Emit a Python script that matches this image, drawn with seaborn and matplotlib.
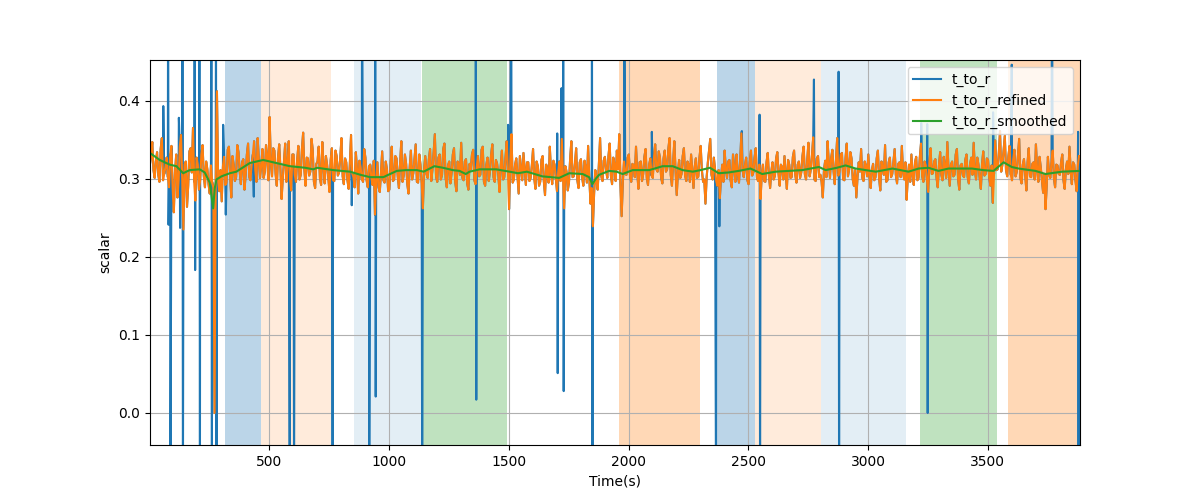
import numpy as np
import pandas as pd
import matplotlib
matplotlib.use("Agg")
import matplotlib.pyplot as plt
import seaborn as sns

# ---------------- data ----------------
# refined signal, samples at t = 1, 11, 21, ... s
time_a = np.arange(1, 3882, 10)
refined_a = [
    0.318, 0.347, 0.301, 0.334, 0.296, 0.352, 0.306, 0.327, 0.289, 0.342,
    0.257, 0.331, 0.298, 0.356, 0.235, 0.322, 0.291, 0.339, 0.365, 0.272,
    0.318, 0.298, 0.343, 0.289, 0.312, 0.281, 0.296, 0.0, 0.412, 0.284,
    0.271, 0.328, 0.295, 0.341, 0.276, 0.318, 0.302, 0.334, 0.293, 0.325,
    0.305, 0.345, 0.298, 0.331, 0.312, 0.352, 0.301, 0.338, 0.309, 0.327,
    0.379, 0.303, 0.336, 0.291, 0.344, 0.274, 0.322, 0.296, 0.348, 0.285,
    0.331, 0.296, 0.342, 0.305, 0.359, 0.291, 0.326, 0.309, 0.337, 0.288,
    0.322, 0.301, 0.347, 0.294, 0.318, 0.283, 0.339, 0.297, 0.329, 0.308,
    0.352, 0.293, 0.321, 0.287, 0.356, 0.302, 0.334, 0.281, 0.315, 0.296,
    0.327, 0.289, 0.318, 0.292, 0.254, 0.321, 0.283, 0.335, 0.295, 0.312,
    0.286, 0.341, 0.299, 0.326, 0.288, 0.348, 0.304, 0.319, 0.281, 0.336,
    0.307, 0.344, 0.295, 0.318, 0.262, 0.329, 0.301, 0.338, 0.312, 0.357,
    0.296, 0.331, 0.305, 0.345, 0.289, 0.322, 0.308, 0.339, 0.284, 0.318,
    0.346, 0.298, 0.325, 0.286, 0.312, 0.337, 0.293, 0.329, 0.305, 0.341,
    0.291, 0.327, 0.309, 0.344, 0.296, 0.319, 0.283, 0.336, 0.302, 0.348,
    0.261, 0.357, 0.299, 0.326, 0.281, 0.314, 0.333, 0.292, 0.321, 0.301,
    0.338, 0.287, 0.316, 0.296, 0.329, 0.279, 0.311, 0.341, 0.293, 0.318,
    0.284, 0.322, 0.351, 0.262, 0.309, 0.295, 0.348, 0.303, 0.339, 0.288,
    0.325, 0.291, 0.314, 0.342, 0.268, 0.239, 0.311, 0.286, 0.352, 0.297,
    0.328, 0.301, 0.345, 0.293, 0.319, 0.336, 0.357, 0.252, 0.322, 0.305,
    0.331, 0.296, 0.317, 0.341, 0.287, 0.322, 0.306, 0.338, 0.292, 0.326,
    0.301, 0.344, 0.309, 0.327, 0.294, 0.336, 0.312, 0.352, 0.291, 0.348,
    0.279, 0.324, 0.306, 0.339, 0.297, 0.318, 0.331, 0.288, 0.326, 0.303,
    0.342, 0.296, 0.268, 0.321, 0.351, 0.299, 0.312, 0.291, 0.275, 0.318,
    0.336, 0.301, 0.324, 0.289, 0.315, 0.331, 0.295, 0.358, 0.302, 0.327,
    0.293, 0.336, 0.308, 0.339, 0.297, 0.274, 0.318, 0.296, 0.333, 0.288,
    0.321, 0.304, 0.334, 0.291, 0.315, 0.329, 0.287, 0.318, 0.302, 0.336,
    0.295, 0.322, 0.308, 0.341, 0.299, 0.346, 0.312, 0.353, 0.297, 0.329,
    0.305, 0.276, 0.323, 0.348, 0.301, 0.337, 0.293, 0.352, 0.309, 0.333,
    0.298, 0.345, 0.312, 0.326, 0.291, 0.276, 0.321, 0.338, 0.297, 0.316,
    0.331, 0.288, 0.319, 0.302, 0.336, 0.285, 0.314, 0.343, 0.298, 0.327,
    0.306, 0.338, 0.294, 0.321, 0.342, 0.299, 0.273, 0.318, 0.331, 0.292,
    0.328, 0.301, 0.345, 0.296, 0.317, 0.283, 0.339, 0.307, 0.325, 0.289,
    0.334, 0.298, 0.316, 0.347, 0.291, 0.322, 0.305, 0.338, 0.286, 0.319,
    0.302, 0.331, 0.294, 0.327, 0.346, 0.299, 0.318, 0.287, 0.335, 0.306,
    0.324, 0.291, 0.269, 0.349, 0.312, 0.361, 0.318, 0.355, 0.303, 0.342,
    0.298, 0.337, 0.309, 0.351, 0.294, 0.325, 0.285, 0.339, 0.302, 0.321,
    0.344, 0.296, 0.315, 0.282, 0.261, 0.328, 0.301, 0.336, 0.289, 0.317,
    0.305, 0.331, 0.287, 0.322, 0.341, 0.293, 0.318, 0.284, 0.329,
]
# refined signal, samples at t = 6, 16, 26, ... s
time_b = np.arange(6, 3880, 10)
refined_b = [
    0.329, 0.311, 0.322, 0.305, 0.338, 0.298, 0.315, 0.302, 0.331, 0.288,
    0.309, 0.276, 0.341, 0.301, 0.318, 0.264, 0.335, 0.308, 0.296, 0.327,
    0.286, 0.331, 0.304, 0.322, 0.293, 0.317, 0.289, 0.301, 0.298, 0.311,
    0.316, 0.292, 0.337, 0.304, 0.329, 0.297, 0.343, 0.309, 0.321, 0.286,
    0.331, 0.302, 0.319, 0.348, 0.296, 0.325, 0.317, 0.301, 0.343, 0.298,
    0.321, 0.339, 0.306, 0.327, 0.314, 0.301, 0.345, 0.318, 0.299, 0.331,
    0.305, 0.324, 0.299, 0.338, 0.312, 0.327, 0.304, 0.351, 0.296, 0.319,
    0.341, 0.292, 0.315, 0.329, 0.302, 0.324, 0.298, 0.336, 0.304, 0.327,
    0.303, 0.326, 0.298, 0.319, 0.307, 0.289, 0.312, 0.323, 0.299, 0.338,
    0.298, 0.316, 0.301, 0.323, 0.296, 0.289, 0.307, 0.298, 0.322, 0.284,
    0.318, 0.297, 0.329, 0.303, 0.321, 0.296, 0.331, 0.293, 0.315, 0.299,
    0.325, 0.296, 0.331, 0.294, 0.312, 0.306, 0.325, 0.297, 0.334, 0.303,
    0.327, 0.299, 0.338, 0.301, 0.317, 0.294, 0.331, 0.296, 0.322, 0.305,
    0.301, 0.322, 0.294, 0.319, 0.331, 0.298, 0.315, 0.303, 0.337, 0.296,
    0.318, 0.297, 0.331, 0.302, 0.324, 0.305, 0.316, 0.299, 0.327, 0.311,
    0.323, 0.295, 0.318, 0.304, 0.329, 0.298, 0.312, 0.321, 0.297, 0.317,
    0.301, 0.322, 0.291, 0.324, 0.297, 0.318, 0.295, 0.309, 0.323, 0.301,
    0.308, 0.297, 0.303, 0.316, 0.285, 0.326, 0.302, 0.319, 0.298, 0.321,
    0.302, 0.323, 0.295, 0.301, 0.288, 0.281, 0.297, 0.318, 0.303, 0.323,
    0.311, 0.329, 0.304, 0.327, 0.297, 0.312, 0.294, 0.296, 0.306, 0.327,
    0.303, 0.319, 0.302, 0.309, 0.321, 0.297, 0.328, 0.301, 0.318, 0.304,
    0.327, 0.312, 0.335, 0.301, 0.326, 0.309, 0.338, 0.305, 0.321, 0.311,
    0.308, 0.301, 0.329, 0.304, 0.322, 0.296, 0.309, 0.315, 0.301, 0.327,
    0.311, 0.299, 0.302, 0.336, 0.305, 0.327, 0.297, 0.311, 0.301, 0.296,
    0.313, 0.322, 0.298, 0.331, 0.296, 0.306, 0.323, 0.311, 0.317, 0.298,
    0.321, 0.304, 0.327, 0.301, 0.318, 0.305, 0.297, 0.321, 0.304, 0.309,
    0.299, 0.326, 0.307, 0.318, 0.299, 0.306, 0.324, 0.301, 0.328, 0.305,
    0.318, 0.301, 0.329, 0.306, 0.324, 0.303, 0.331, 0.299, 0.326, 0.302,
    0.296, 0.312, 0.302, 0.321, 0.327, 0.309, 0.324, 0.304, 0.331, 0.299,
    0.327, 0.303, 0.334, 0.299, 0.311, 0.302, 0.309, 0.301, 0.322, 0.303,
    0.303, 0.311, 0.298, 0.326, 0.301, 0.322, 0.305, 0.296, 0.321, 0.302,
    0.322, 0.305, 0.319, 0.302, 0.309, 0.321, 0.302, 0.296, 0.305, 0.321,
    0.298, 0.327, 0.303, 0.322, 0.298, 0.321, 0.306, 0.322, 0.301, 0.317,
    0.305, 0.328, 0.301, 0.311, 0.318, 0.303, 0.331, 0.299, 0.317, 0.304,
    0.324, 0.302, 0.319, 0.305, 0.311, 0.327, 0.301, 0.319, 0.304, 0.326,
    0.301, 0.317, 0.306, 0.311, 0.333, 0.309, 0.337, 0.311, 0.329, 0.305,
    0.324, 0.303, 0.331, 0.301, 0.318, 0.306, 0.321, 0.303, 0.319, 0.299,
    0.311, 0.328, 0.298, 0.306, 0.291, 0.305, 0.322, 0.301, 0.318, 0.306,
    0.321, 0.298, 0.312, 0.306, 0.311, 0.321, 0.298, 0.317,
]

# raw signal outliers (the raw signal equals the refined one elsewhere)
spike_time = [57, 77, 79, 87, 122, 127, 137, 139, 188, 190, 208, 210,
              258, 260, 277, 279, 307, 318, 435, 585, 603, 764, 844, 887,
              917, 942, 944, 1138, 1362, 1364, 1497, 1510, 1702, 1704, 1720,
              1727, 1729, 1847, 1849, 1982, 2097, 2365, 2379, 2473, 2547,
              2549, 2774, 2877, 2879, 3222, 3247, 3249, 3522, 3600, 3768,
              3877, 3879, 3883, 3885]
spike_value = [0.393, 0.55, 0.241, -0.1, 0.378, 0.237, 0.55, -0.1, 0.55, 0.183,
               0.55, -0.1, 0.55, -0.1, 0.55, -0.1, 0.369, 0.254, 0.277, -0.1,
               -0.1, -0.1, 0.266, 0.55, -0.1, 0.55, 0.021, -0.1, 0.55, 0.017,
               0.369, 0.55, 0.358, 0.051, 0.416, 0.55, 0.028, 0.55, -0.1, 0.55,
               0.360, -0.1, 0.239, 0.361, 0.382, -0.1, 0.427, 0.437, -0.1, 0.371,
               0.37, 0.0, 0.385, 0.446, 0.55, 0.36, -0.1, -0.1, -0.1]

# smoothed signal
smooth_time = [1, 42, 84, 112, 140, 167, 209, 230, 251, 265, 272, 279, 300, 335,
               362, 418, 474, 502, 530, 586, 650, 683, 700, 767, 837, 880, 920,
               976, 1032, 1070, 1116, 1144, 1189, 1225, 1266, 1294, 1320, 1336,
               1378, 1447, 1503, 1538, 1575, 1640, 1710, 1752, 1808, 1835, 1849,
               1863, 1877, 1919, 1950, 1975, 2017, 2086, 2142, 2184, 2226, 2268,
               2300, 2340, 2376, 2418, 2460, 2509, 2558, 2614, 2669, 2725, 2795,
               2823, 2870, 2906, 2948, 3032, 3102, 3169, 3211, 3252, 3294, 3336,
               3434, 3480, 3524, 3566, 3600, 3629, 3699, 3741, 3810, 3885]
smooth_value = [0.333, 0.324, 0.318, 0.316, 0.307, 0.311, 0.312, 0.308, 0.295,
                0.262, 0.288, 0.299, 0.303, 0.307, 0.309, 0.320, 0.324, 0.322,
                0.320, 0.316, 0.314, 0.312, 0.314, 0.311, 0.309, 0.305, 0.302,
                0.302, 0.310, 0.311, 0.311, 0.309, 0.316, 0.314, 0.311, 0.310,
                0.306, 0.309, 0.312, 0.312, 0.309, 0.307, 0.309, 0.303, 0.301,
                0.307, 0.306, 0.302, 0.293, 0.300, 0.305, 0.310, 0.309, 0.306,
                0.311, 0.311, 0.316, 0.316, 0.311, 0.309, 0.311, 0.314, 0.307,
                0.308, 0.310, 0.313, 0.306, 0.309, 0.310, 0.311, 0.315, 0.311,
                0.314, 0.317, 0.313, 0.309, 0.313, 0.309, 0.313, 0.314, 0.310,
                0.313, 0.313, 0.311, 0.310, 0.321, 0.315, 0.313, 0.310, 0.306,
                0.309, 0.310]

# labelled segments
span_start = [314, 467, 853, 1136, 1961, 2370, 2527, 2802, 3216, 3583]
span_end = [467, 759, 1132, 1491, 2300, 2527, 2802, 3158, 3537, 3890]
span_label = ["A", "B", "C", "D", "E", "A", "B", "C", "D", "E"]

# ---------------- styles ----------------
span_style = {
    "A": ("tab:blue", 0.30),
    "B": ("tab:orange", 0.15),
    "C": ("tab:blue", 0.12),
    "D": ("tab:green", 0.30),
    "E": ("tab:orange", 0.30),
}

refined_df = pd.DataFrame({
    "time": np.concatenate([time_a, time_b]),
    "value": np.concatenate([refined_a, refined_b]),
}).sort_values("time")
raw_df = pd.concat(
    [refined_df, pd.DataFrame({"time": spike_time, "value": spike_value})],
    ignore_index=True,
).sort_values("time")
smooth_df = pd.DataFrame({"time": smooth_time, "value": smooth_value})

fig, ax = plt.subplots(figsize=(12, 5), dpi=100)

for s, e, lab in zip(span_start, span_end, span_label):
    c, a = span_style[lab]
    ax.axvspan(s, e, color=c, alpha=a, linewidth=0)

sns.lineplot(data=raw_df, x="time", y="value", ax=ax, color="tab:blue",
             label="t_to_r", linewidth=1.5, estimator=None)
sns.lineplot(data=refined_df, x="time", y="value", ax=ax, color="tab:orange",
             label="t_to_r_refined", linewidth=1.5, estimator=None)
sns.lineplot(data=smooth_df, x="time", y="value", ax=ax, color="tab:green",
             label="t_to_r_smoothed", linewidth=1.5, estimator=None)

ax.set_xlim(1.5, 3885)
ax.set_ylim(-0.041, 0.452)
ax.set_xlabel("Time(s)")
ax.set_ylabel("scalar")
ax.grid(True)
ax.legend(loc="upper right")

fig.savefig("out.png", dpi=100)
